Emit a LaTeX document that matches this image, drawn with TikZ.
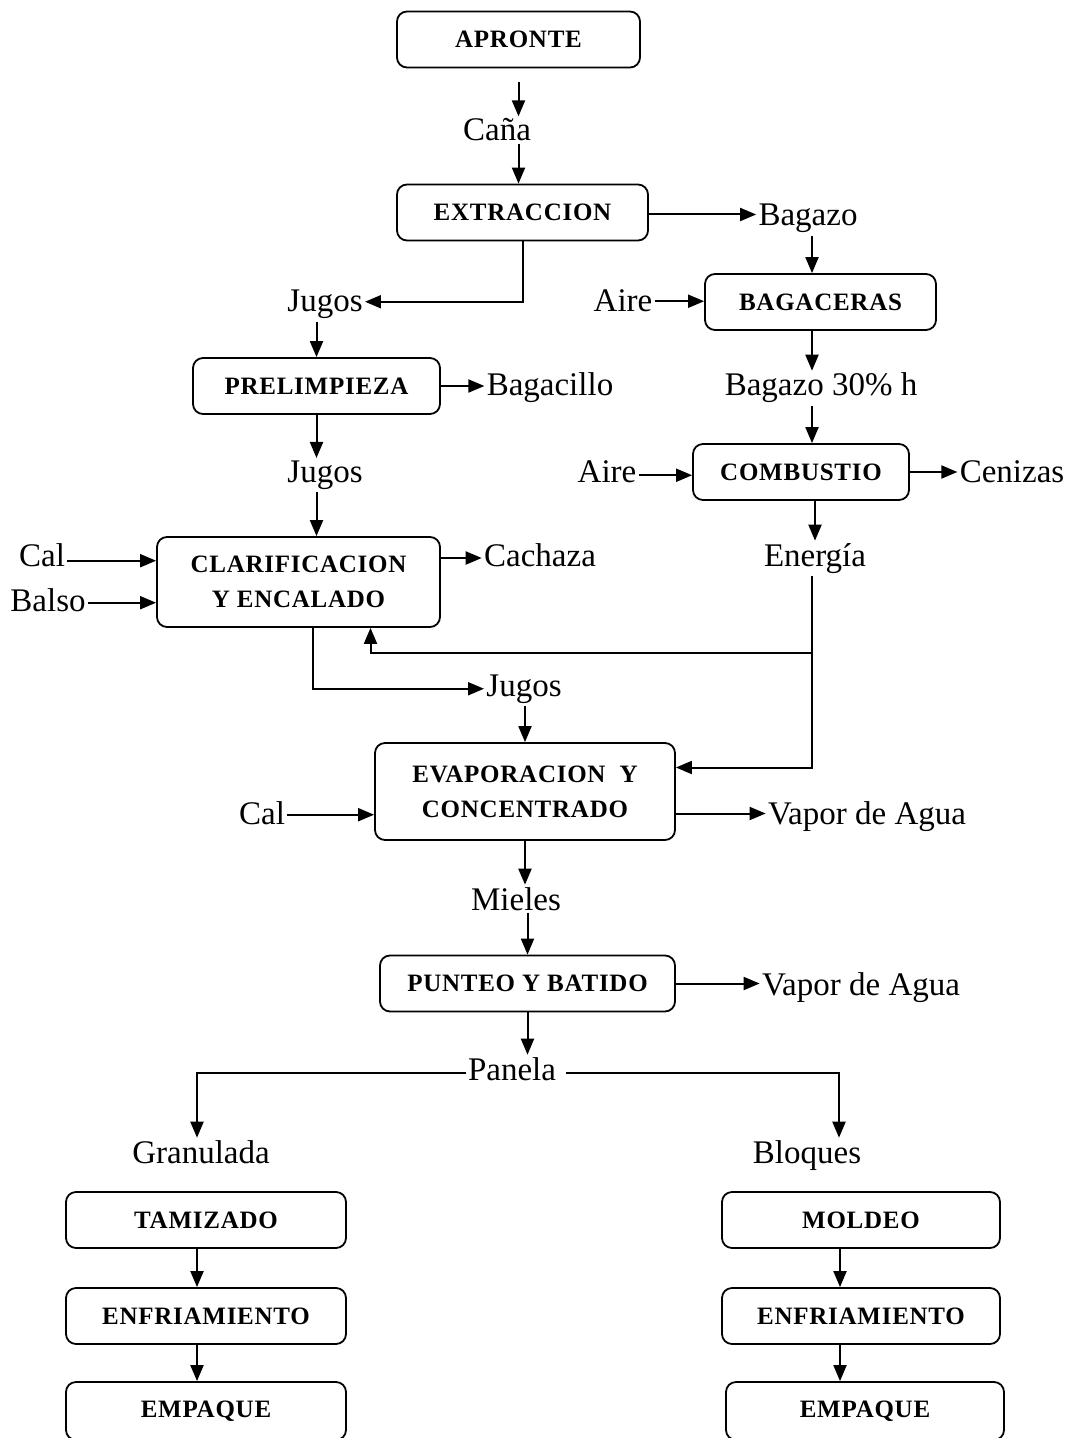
\documentclass[tikz,border=0pt]{standalone}
\usepackage{fontspec}
\setmainfont{Liberation Serif}
\newfontfamily\boxfnt[LetterSpace=3]{Liberation Serif}
\usetikzlibrary{arrows.meta, calc}
\tikzset{
  proc/.style ={draw, rounded corners=5pt, align=center, line width=0.9pt,
                minimum height=28pt, inner sep=2pt,
                font=\boxfnt\fontsize{12.5}{17.5}\selectfont\bfseries},
  lbl/.style  ={inner sep=1pt, anchor=base, font=\fontsize{16.5}{19}\selectfont},
  flow/.style ={-{Triangle[length=8pt, width=6.5pt]}, line width=1pt},
  line/.style ={line width=1pt},
}

\begin{document}
\begin{tikzpicture}[x=0.5pt, y=-0.5pt]
  \useasboundingbox (0,0) rectangle (1072,1438);
  % process boxes
  \node[proc, minimum width=121.5pt] (apr)  at (518.5,39.5) {APRONTE};
  \node[proc, minimum width=125.5pt] (ext)  at (522.5,212.5) {EXTRACCION};
  \node[proc, minimum width=115.5pt] (bgc)  at (820.5,302) {BAGACERAS};
  \node[proc, minimum width=123.5pt] (pre)  at (316.5,386) {PRELIMPIEZA};
  \node[proc, minimum width=108pt]   (comb) at (801,472) {COMBUSTIO};
  \node[proc, minimum width=141.5pt, minimum height=45pt] (clar) at (298.5,582) {CLARIFICACION\\Y ENCALADO};
  \node[proc, minimum width=150pt, minimum height=48.5pt] (evap) at (525,791.5) {EVAPORACION\ \ Y\\CONCENTRADO};
  \node[proc, minimum width=147.5pt] (punt) at (527.5,983.5) {PUNTEO Y BATIDO};
  \node[proc, minimum width=140pt]   (tam)  at (206,1220) {TAMIZADO};
  \node[proc, minimum width=140pt]   (enfl) at (206,1316) {ENFRIAMIENTO};
  \node[proc, minimum width=140pt, minimum height=29pt] (empl) at (206,1411) {EMPAQUE};
  \node[proc, minimum width=139pt]   (mol)  at (861,1220) {MOLDEO};
  \node[proc, minimum width=139pt]   (enfr) at (861,1316) {ENFRIAMIENTO};
  \node[proc, minimum width=139pt, minimum height=29pt] (empr) at (865,1411) {EMPAQUE};
  % stream labels
  \node[lbl] (cana)  at (497,141)  {Caña};
  \node[lbl] (bag)   at (808,226)  {Bagazo};
  \node[lbl] (jug1)  at (325,312)  {Jugos};
  \node[lbl] (aire1) at (623,312)  {Aire};
  \node[lbl] (bagc)  at (550,396)  {Bagacillo};
  \node[lbl] (b30)   at (821,396)  {Bagazo 30\% h};
  \node[lbl] (jug2)  at (325,482)  {Jugos};
  \node[lbl] (aire2) at (607,482)  {Aire};
  \node[lbl] (cen)   at (1012,482) {Cenizas};
  \node[lbl] (cal1)  at (42,566)   {Cal};
  \node[lbl] (balso) at (48,611)   {Balso};
  \node[lbl] (cach)  at (540,566)  {Cachaza};
  \node[lbl] (ener)  at (815,566)  {Energía};
  \node[lbl] (jug3)  at (524,696)  {Jugos};
  \node[lbl] (cal2)  at (262,824)  {Cal};
  \node[lbl] (vap1)  at (867,824)  {Vapor de Agua};
  \node[lbl] (mie)   at (516,910)  {Mieles};
  \node[lbl] (vap2)  at (861,995)  {Vapor de Agua};
  \node[lbl] (pan)   at (512,1080) {Panela};
  \node[lbl] (gran)  at (201,1163) {Granulada};
  \node[lbl] (bloq)  at (807,1163) {Bloques};
  \coordinate (ej) at (812,653);
  % main line
  \draw[flow] ([yshift=-7pt]apr.south) -- (apr.south |- cana.north);
  \draw[flow] (apr.south |- cana.south) -- (apr.south |- ext.north);
  \draw[flow] ([yshift=-1pt]ext.east) -- ([yshift=-1pt]ext.east -| bag.west);
  \draw[flow] (ext.south) |- ([yshift=1.5pt]jug1.east);
  \draw[flow] (pre.north |- jug1.south) -- (pre.north);
  \draw[flow] (pre.east) -- (pre.east -| bagc.west);
  \draw[flow] (pre.south) -- (pre.south |- jug2.north);
  \draw[flow] (pre.south |- jug2.south) -- (pre.south |- clar.north);
  \draw[flow] ([yshift=-3pt]cal1.east) -- ([yshift=-3pt]cal1.east -| clar.west);
  \draw[flow] ([yshift=-1.5pt]balso.east) -- ([yshift=-1.5pt]balso.east -| clar.west);
  \draw[flow] ([yshift=12pt]clar.east) -- ([yshift=12pt]clar.east -| cach.west);
  % bagazo side
  \draw[flow] (bag.south -| ej) -- (bgc.north -| ej);
  \draw[flow] (aire1.east) -- (aire1.east -| bgc.west);
  \draw[flow] (bgc.south -| ej) -- (b30.north -| ej);
  \draw[flow] (b30.south -| ej) -- (comb.north -| ej);
  \draw[flow] ([yshift=-2pt]aire2.east) -- ([yshift=-2pt]aire2.east -| comb.west);
  \draw[flow] (comb.east) -- (comb.east -| cen.west);
  \draw[flow] (comb.south -| ener.north) -- (ener.north);
  % energy return
  \draw[flow] (ener.south -| ej) -- (ej) -| ([xshift=36pt]clar.south);
  \draw[flow] (ej) |- ([yshift=12pt]evap.east);
  \draw[flow] ([xshift=7pt]clar.south) |- (jug3.west);
  \draw[flow] (evap.north |- jug3.south) -- (evap.north);
  \draw[flow] ([yshift=-1pt]cal2.east) -- ([yshift=-1pt]cal2.east -| evap.west);
  \draw[flow] ([yshift=-11pt]evap.east) -- ([yshift=-11pt]evap.east -| vap1.west);
  \draw[flow] (evap.south) -- (evap.south |- mie.north);
  \draw[flow] (punt.north |- mie.south) -- (punt.north);
  \draw[flow] (punt.east) -- (punt.east -| vap2.west);
  \draw[flow] (punt.south) -- (punt.south |- pan.north);
  % branches
  \draw[flow] ([yshift=-2pt]pan.west) -| ([xshift=-2pt]gran.north);
  \draw[flow] ([yshift=-2pt,xshift=4pt]pan.east) -| ([xshift=16pt]bloq.north);
  \draw[flow] ([xshift=-4.5pt]tam.south) -- ([xshift=-4.5pt]enfl.north);
  \draw[flow] ([xshift=-4.5pt]enfl.south) -- ([xshift=-4.5pt]empl.north);
  \draw[flow] ([xshift=-10.5pt]mol.south) -- ([xshift=-10.5pt]enfr.north);
  \draw[flow] ([xshift=-10.5pt]enfr.south) -- ([xshift=-12.5pt]empr.north);
\end{tikzpicture}
\end{document}
